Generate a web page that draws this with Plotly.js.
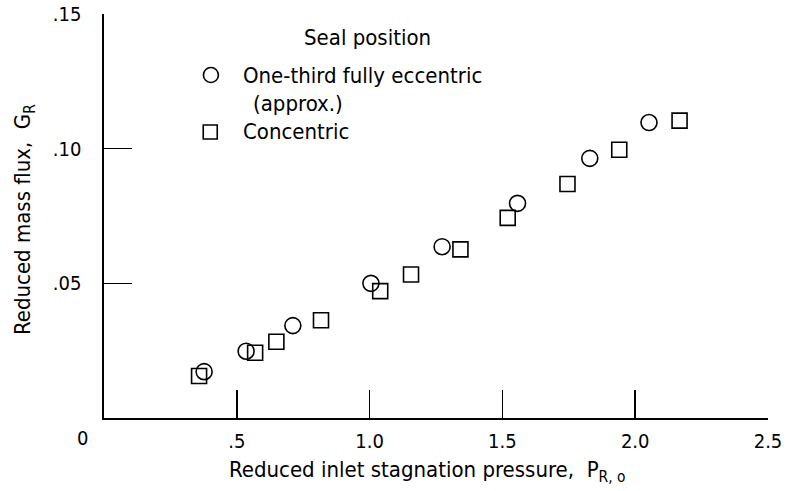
<!DOCTYPE html>
<html>
<head>
<meta charset="utf-8">
<script src="https://cdn.plot.ly/plotly-3.0.1.min.js"></script>
<style>
  html, body { margin: 0; padding: 0; background: #fff; }
  #chart { width: 788px; height: 491px; }
</style>
</head>
<body>
<div id="chart"></div>
<script>
// Data
const eccentricX = [0.377, 0.535, 0.711, 1.005, 1.273, 1.557, 1.829, 2.052];
const eccentricY = [0.0172, 0.0248, 0.0343, 0.0500, 0.0636, 0.0797, 0.0964, 0.1097];

const concentricX = [0.358, 0.569, 0.649, 0.817, 1.040, 1.156, 1.342, 1.520, 1.745, 1.940, 2.167];
const concentricY = [0.0156, 0.0242, 0.0283, 0.0363, 0.0471, 0.0533, 0.0626, 0.0743, 0.0869, 0.0996, 0.1104];

const xTickVals = [0.5, 1.0, 1.5, 2.0, 2.5];
const xTickText = ['.5', '1.0', '1.5', '2.0', '2.5'];
const yTickVals = [0.05, 0.10, 0.15];
const yTickText = ['.05', '.10', '.15'];

const FONT = '"DejaVu Sans Condensed", "Liberation Sans Narrow", "DejaVu Sans", sans-serif';
const TS = 20;   // tick label size
const LS = 22;   // title / legend text size

const traces = [
  {
    x: eccentricX, y: eccentricY, type: 'scatter', mode: 'markers',
    name: 'One-third fully eccentric (approx.)',
    marker: { symbol: 'circle-open', size: 16, color: '#000', line: { width: 1.6, color: '#000' } },
    showlegend: false, cliponaxis: false
  },
  {
    x: concentricX, y: concentricY, type: 'scatter', mode: 'markers',
    name: 'Concentric',
    marker: { symbol: 'square-open', size: 15, color: '#000', line: { width: 1.6, color: '#000' } },
    showlegend: false, cliponaxis: false
  }
];

const layout = {
  width: 788, height: 491,
  margin: { l: 104, r: 20, t: 14, b: 73 },
  paper_bgcolor: '#fff', plot_bgcolor: '#fff',
  font: { family: FONT, size: LS, color: '#000' },
  showlegend: false,
  xaxis: {
    range: [0, 2.5], showgrid: false, zeroline: false,
    showline: true, linecolor: '#000', linewidth: 1.6,
    ticks: 'inside', ticklen: 28, tickwidth: 1.6, tickcolor: '#000',
    tickmode: 'array', tickvals: xTickVals, ticktext: xTickText,
    tickfont: { family: FONT, size: TS, color: '#000' },
    ticklabelstandoff: 4
  },
  yaxis: {
    range: [0, 0.15], showgrid: false, zeroline: false,
    showline: true, linecolor: '#000', linewidth: 1.6,
    ticks: 'inside', ticklen: 28, tickwidth: 1.6, tickcolor: '#000',
    tickmode: 'array', tickvals: yTickVals, ticktext: yTickText,
    tickfont: { family: FONT, size: TS, color: '#000' },
    ticklabelstandoff: 17
  },
  annotations: [
    { text: '0', xref: 'paper', yref: 'paper', x: -0.032, y: 0, yshift: -20,
      showarrow: false, xanchor: 'center', yanchor: 'middle', font: { family: FONT, size: TS } },
    { text: 'Reduced inlet stagnation pressure,  P<sub>R, o</sub>', xref: 'paper', yref: 'paper',
      x: 0.486, y: 0, yshift: -53, showarrow: false, xanchor: 'center', yanchor: 'middle',
      font: { family: FONT, size: LS } },
    { text: 'Reduced mass flux,  G<sub>R</sub>', xref: 'paper', yref: 'paper',
      x: 0, xshift: -80, y: 0.49, textangle: -90, showarrow: false, xanchor: 'center', yanchor: 'middle',
      font: { family: FONT, size: LS } },
    { text: 'Seal position', xref: 'paper', yref: 'paper', x: 0.298, y: 0.943,
      showarrow: false, xanchor: 'left', yanchor: 'middle', font: { family: FONT, size: LS } },
    { text: 'One-third fully eccentric', xref: 'paper', yref: 'paper', x: 0.206, y: 0.849,
      showarrow: false, xanchor: 'left', yanchor: 'middle', font: { family: FONT, size: LS } },
    { text: '(approx.)', xref: 'paper', yref: 'paper', x: 0.221, y: 0.779,
      showarrow: false, xanchor: 'left', yanchor: 'middle', font: { family: FONT, size: LS } },
    { text: 'Concentric', xref: 'paper', yref: 'paper', x: 0.206, y: 0.708,
      showarrow: false, xanchor: 'left', yanchor: 'middle', font: { family: FONT, size: LS } }
  ],
  shapes: [
    { type: 'circle', xref: 'paper', yref: 'paper', xsizemode: 'pixel', ysizemode: 'pixel',
      xanchor: 0.161, yanchor: 0.849, x0: -7.5, x1: 7.5, y0: -7.5, y1: 7.5,
      line: { color: '#000', width: 1.6 } },
    { type: 'rect', xref: 'paper', yref: 'paper', xsizemode: 'pixel', ysizemode: 'pixel',
      xanchor: 0.160, yanchor: 0.708, x0: -7, x1: 7, y0: -7, y1: 7,
      line: { color: '#000', width: 1.6 } }
  ]
};

Plotly.newPlot('chart', traces, layout, { staticPlot: true, displayModeBar: false });
</script>
</body>
</html>
